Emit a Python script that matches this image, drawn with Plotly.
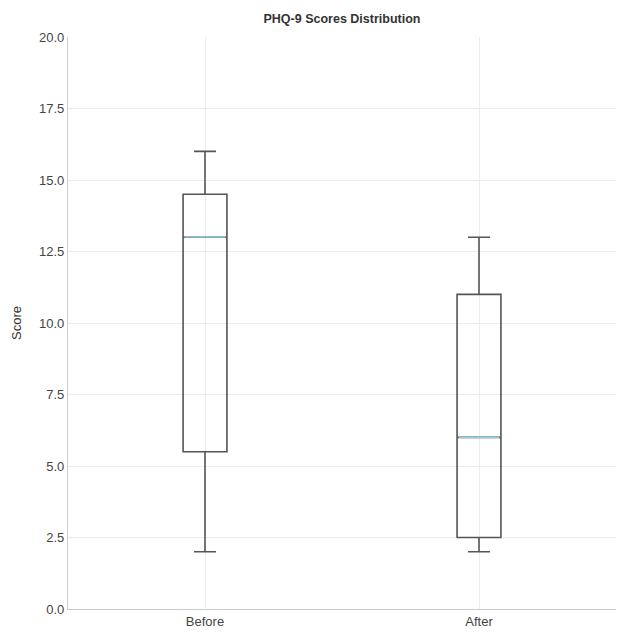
import plotly.graph_objects as go

categories = ["Before", "After"]
positions = [1, 2]
lower_whisker = [2.0, 2.0]
q1 = [5.5, 2.5]
median = [13.0, 6.0]
q3 = [14.5, 11.0]
upper_whisker = [16.0, 13.0]
y_ticks = [0.0, 2.5, 5.0, 7.5, 10.0, 12.5, 15.0, 17.5, 20.0]

box_w = 0.16
fig = go.Figure()
fig.add_trace(go.Box(
    x=positions, q1=q1, median=median, q3=q3,
    lowerfence=lower_whisker, upperfence=upper_whisker,
    width=box_w, whiskerwidth=0.5,
    line=dict(color="#555555", width=1.6),
    fillcolor="rgba(255,255,255,0)",
    boxpoints=False, showlegend=False, hoverinfo="skip",
))
for p, m in zip(positions, median):
    fig.add_trace(go.Scatter(
        x=[p - box_w / 2 + 0.006, p + box_w / 2 - 0.006], y=[m, m], mode="lines",
        line=dict(color="#86cfea", width=1.3), showlegend=False, hoverinfo="skip",
    ))

font = "Liberation Sans, Arial, sans-serif"
fig.update_layout(
    width=623, height=633,
    margin=dict(l=68, r=7, t=37, b=24, autoexpand=False),
    paper_bgcolor="white", plot_bgcolor="white",
    font=dict(family=font, color="#444444", size=13),
    title=dict(text="<b>PHQ-9 Scores Distribution</b>", x=(68 + 616) / 2 / 623, xanchor="center",
               y=1 - 19 / 633, yanchor="middle", font=dict(size=12.5, color="#333333")),
    xaxis=dict(range=[0.5, 2.5], tickvals=positions, ticktext=categories, automargin=False,
               showgrid=True, gridcolor="#ececec", gridwidth=1,
               showline=True, linecolor="#cccccc", linewidth=1.2,
               ticks="", zeroline=False, tickfont=dict(size=13, color="#444444")),
    yaxis=dict(range=[0, 20], tickvals=y_ticks, ticktext=[f"{v:.1f}" for v in y_ticks], automargin=False,
               showgrid=True, gridcolor="#ececec", gridwidth=1,
               showline=True, linecolor="#cccccc", linewidth=1.2,
               ticks="", zeroline=False, tickfont=dict(size=13, color="#444444"),
               title=dict(text="Score", font=dict(size=13, color="#333333"), standoff=14)),
)
fig.write_html("out.html")
